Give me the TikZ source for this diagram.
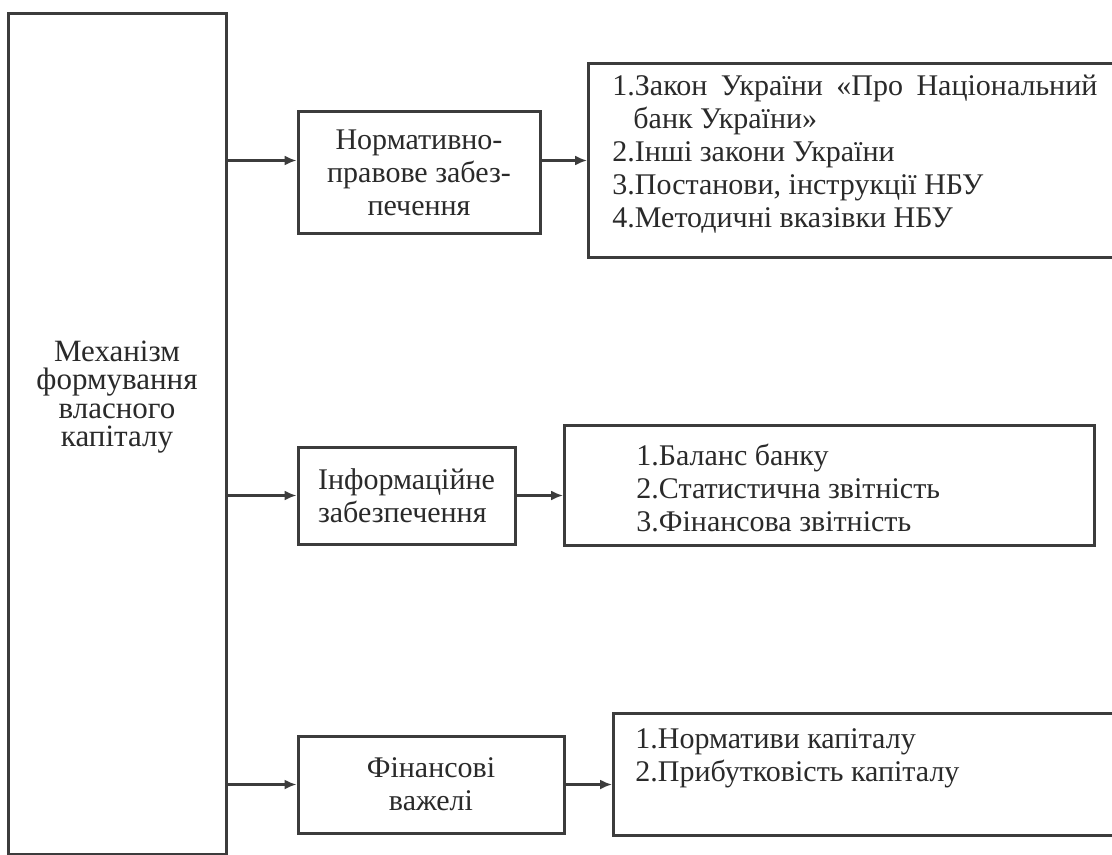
\documentclass[tikz,border=0pt]{standalone}
\usepackage{fontspec}
\setmainfont{Liberation Serif}
\usetikzlibrary{arrows.meta}
\definecolor{ink}{HTML}{3C3C3C}
\definecolor{txtc}{HTML}{2A2A2A}
\begin{document}
\begin{tikzpicture}[x=0.5pt,y=-0.5pt,
  box/.style={draw=ink, line width=1.5pt, inner sep=0pt, rectangle},
  lbl/.style={text=txtc, font=\fontsize{15}{16.5}\selectfont, inner sep=0pt},
  arr/.style={draw=ink, line width=1.1pt, -{Latex[length=6pt,width=5pt]}}]
\useasboundingbox (0,0) rectangle (1112,855);
\fill[white] (0,0) rectangle (1112,855);

% main box
\node[box, minimum width=109pt, minimum height=420pt] (mech) at (117,434) {};
\node[lbl, align=center, font=\fontsize{15.5}{14.3}\selectfont] (mechtext) at (117,397)
  {Механізм\\формування\\власного\\капіталу};

% middle boxes
\node[box, lbl, minimum width=121pt, minimum height=61pt, align=center] (norm) at (419,173)
  {Нормативно-\\правове забез-\\печення};
\node[box, lbl, minimum width=108.5pt, minimum height=48.5pt, align=left] (info) at (406.5,495.5)
  {Інформаційне\\забезпечення};
\node[box, lbl, minimum width=133pt, minimum height=48.5pt, align=center] (fin) at (431,784.5)
  {Фінансові\\важелі};

% list boxes
\node[box, minimum width=275pt, minimum height=97pt, anchor=north west] (lawbox) at (587,62) {};
\node[lbl, align=left, anchor=west] (lawtext) at (612,154)
  {\makebox[242.5pt][s]{1.Закон України «Про Національний}\\
   \hspace*{10.5pt}банк України»\\
   2.Інші закони України\\
   3.Постанови, інструкції НБУ\\
   4.Методичні вказівки НБУ};

\node[box, minimum width=265pt, minimum height=60pt, anchor=north west] (infobox) at (563,424) {};
\node[lbl, align=left, anchor=west] (infotext) at (636,488)
  {1.Баланс банку\\2.Статистична звітність\\3.Фінансова звітність};

\node[box, minimum width=264pt, minimum height=61pt, anchor=north west] (finbox) at (612,712) {};
\node[lbl, align=left, anchor=west] (fintext) at (635,758)
  {1.Нормативи капіталу\\2.Прибутковість капіталу};

% connectors
\draw[arr] (mech.east |- lawbox.west) -- (norm.west |- lawbox.west);
\draw[arr] (norm.east |- lawbox.west) -- (lawbox.west);
\draw[arr] (mech.east |- info.west) -- (info.west);
\draw[arr] (info.east) -- (infobox.west |- info.east);
\draw[arr] (mech.east |- fin.west) -- (fin.west);
\draw[arr] (fin.east) -- (finbox.west |- fin.east);
\end{tikzpicture}
\end{document}
